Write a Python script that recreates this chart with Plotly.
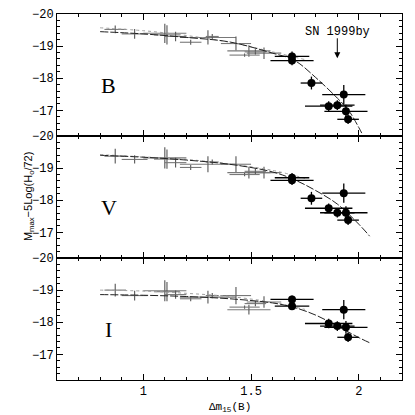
import plotly.graph_objects as go
from plotly.subplots import make_subplots

# ---- data ----
bands = ["B", "V", "I"]

# slow decliners (gray crosses), same SNe in all three bands
gray_dm15 = [0.87, 0.96, 1.10, 1.11, 1.15, 1.22, 1.30, 1.32, 1.43, 1.49, 1.47, 1.56, 1.52]
gray_dm15_err = [0.05, 0.06, 0.10, 0.06, 0.05, 0.05, 0.13, 0.03, 0.07, 0.10, 0.07, 0.08, 0.05]
gray_B = [-19.52, -19.38, -19.40, -19.35, -19.30, -19.12, -19.27, -19.30, -19.08, -18.85, -18.72, -18.78, -18.82]
gray_B_err = [0.12, 0.15, 0.30, 0.30, 0.15, 0.08, 0.22, 0.08, 0.22, 0.18, 0.05, 0.18, 0.08]
gray_V = [-19.37, -19.27, -19.32, -19.28, -19.17, -19.02, -19.12, -19.19, -19.12, -18.86, -18.80, -18.86, -18.90]
gray_V_err = [0.23, 0.13, 0.33, 0.30, 0.15, 0.08, 0.25, 0.08, 0.25, 0.18, 0.05, 0.18, 0.08]
gray_I = [-19.00, -18.83, -18.98, -18.95, -18.86, -18.73, -18.78, -18.83, -18.83, -18.39, -18.47, -18.63, -18.58]
gray_I_err = [0.20, 0.15, 0.33, 0.30, 0.13, 0.08, 0.20, 0.08, 0.27, 0.15, 0.05, 0.18, 0.08]

# fast decliners (black dots)
fast_dm15 = [1.69, 1.69, 1.78, 1.86, 1.90, 1.93, 1.94, 1.95]
fast_dm15_err = [0.10, 0.08, 0.05, 0.11, 0.08, 0.10, 0.10, 0.05]
fast_B = [-18.55, -18.68, -17.85, -17.13, -17.16, -17.49, -16.97, -16.72]
fast_B_err = [0.15, 0.15, 0.20, 0.15, 0.15, 0.30, 0.20, 0.15]
fast_V = [-18.62, -18.70, -18.06, -17.75, -17.61, -18.22, -17.61, -17.38]
fast_V_err = [0.15, 0.15, 0.20, 0.15, 0.15, 0.30, 0.20, 0.15]
fast_I = [-18.71, -18.50, None, -17.96, -17.88, -18.39, -17.84, -17.53]
fast_I_err = [0.12, 0.12, None, 0.15, 0.15, 0.30, 0.20, 0.15]

# fitted relations
fit_dm15 = [0.80, 1.00, 1.20, 1.40, 1.60, 1.70, 1.80, 1.90, 1.95, 2.00, 2.02]
fit_B = [-19.45, -19.38, -19.27, -19.13, -18.78, -18.56, -18.02, -17.38, -17.02, -16.46, -16.20]
fit_dm15_VI = [0.80, 1.00, 1.20, 1.40, 1.60, 1.70, 1.80, 1.90, 2.00, 2.05]
fit_V = [-19.40, -19.34, -19.25, -19.12, -18.88, -18.64, -18.30, -17.88, -17.25, -16.88]
fit_I = [-18.86, -18.84, -18.80, -18.73, -18.60, -18.46, -18.22, -17.88, -17.52, -17.36]

lin_dm15 = [0.80, 1.00, 1.20, 1.40, 1.60, 1.75]
lin_B = [-19.57, -19.48, -19.33, -19.12, -18.82, -18.58]
lin_V = [-19.42, -19.35, -19.27, -19.13, -18.93, -18.68]
lin_I = [-19.00, -18.97, -18.90, -18.80, -18.62, -18.40]

x_ticks = [1, 1.5, 2]
y_ticks = [-20, -19, -18, -17]
sn_label = "SN 1999by"
sn_dm15 = 1.90

gray = {"B": (gray_B, gray_B_err), "V": (gray_V, gray_V_err), "I": (gray_I, gray_I_err)}
fast = {"B": (fast_B, fast_B_err), "V": (fast_V, fast_V_err), "I": (fast_I, fast_I_err)}
fits = {"B": (fit_dm15, fit_B), "V": (fit_dm15_VI, fit_V), "I": (fit_dm15_VI, fit_I)}
lins = {"B": lin_B, "V": lin_V, "I": lin_I}

fig = make_subplots(rows=3, cols=1, shared_xaxes=True, vertical_spacing=0)

for r, band in enumerate(bands, start=1):
    gy, gye = gray[band]
    fig.add_trace(go.Scatter(
        x=gray_dm15, y=gy, mode="markers",
        marker=dict(size=1, color="#606060"),
        error_x=dict(type="data", array=gray_dm15_err, width=0, thickness=1.1, color="#787878"),
        error_y=dict(type="data", array=gye, width=0, thickness=1.1, color="#555555"),
        showlegend=False), row=r, col=1)
    fig.add_trace(go.Scatter(
        x=lin_dm15, y=lins[band], mode="lines",
        line=dict(color="#a0a0a0", width=1, dash="dot", shape="spline"),
        showlegend=False), row=r, col=1)
    fx, fy = fits[band]
    fig.add_trace(go.Scatter(
        x=fx, y=fy, mode="lines",
        line=dict(color="#222222", width=1, dash="8px,2px", shape="spline"),
        showlegend=False), row=r, col=1)
    fy2, fye = fast[band]
    fig.add_trace(go.Scatter(
        x=fast_dm15, y=fy2, mode="markers",
        marker=dict(size=8, color="black"),
        error_x=dict(type="data", array=fast_dm15_err, width=0, thickness=1.3, color="black"),
        error_y=dict(type="data", array=fye, width=0, thickness=1.3, color="black"),
        showlegend=False), row=r, col=1)
    fig.add_annotation(x=0.84, y=-17.78, xref=f"x{'' if r == 1 else r}", yref=f"y{'' if r == 1 else r}",
                       text=band, showarrow=False,
                       font=dict(family="Liberation Serif", size=22, color="black"))

tick_font = dict(family="Liberation Mono", size=12, color="black")
for r in range(1, 4):
    fig.update_xaxes(
        row=r, col=1, range=[0.6, 2.2], tickvals=x_ticks,
        ticks="inside", ticklen=6, tickwidth=1, tickcolor="black",
        showline=True, linecolor="black", linewidth=1, mirror="allticks",
        showgrid=False, zeroline=False,
        minor=dict(dtick=0.1, tick0=0, ticks="inside", ticklen=3, tickcolor="black", showgrid=False),
        showticklabels=(r == 3), tickfont=tick_font,
    )
    fig.update_yaxes(
        row=r, col=1, range=[-16.2, -20], tickvals=y_ticks,
        ticks="inside", ticklen=6, tickwidth=1, tickcolor="black",
        showline=True, linecolor="black", linewidth=1, mirror="allticks",
        showgrid=False, zeroline=False,
        minor=dict(dtick=0.2, tick0=-20, ticks="inside", ticklen=3, tickcolor="black", showgrid=False),
        tickfont=tick_font,
    )

# x-axis title
fig.add_annotation(x=0.5, y=-0.074, xref="paper", yref="paper", yanchor="middle",
                   text="Δm<sub>15</sub>(B)", showarrow=False,
                   font=dict(family="Liberation Mono", size=11, color="black"))

# SN 1999by arrow and label
fig.add_annotation(x=sn_dm15, y=-18.62, ax=sn_dm15, ay=-19.29, xref="x", yref="y", axref="x", ayref="y",
                   text="", showarrow=True, arrowhead=2, arrowsize=1.2, arrowwidth=1, arrowcolor="black")
fig.add_annotation(x=sn_dm15, y=-19.45, xref="x", yref="y", text=sn_label, showarrow=False,
                   font=dict(family="Liberation Mono", size=12, color="black"))

fig.add_annotation(x=-0.107, y=0.5, xref="paper", yref="paper", textangle=-90,
                   text="M<sub>max</sub>−5Log(H<sub>o</sub>/72)", showarrow=False,
                   font=dict(family="Liberation Sans", size=11, color="black"))

# page body adds an 8px offset; size the figure so the plot area lands where the reference has it
fig.update_layout(
    width=407, height=407,
    margin=dict(l=49, r=13, t=6, b=35, autoexpand=False),
    paper_bgcolor="white", plot_bgcolor="white",
    font=tick_font,
)

fig.write_html("out.html")
